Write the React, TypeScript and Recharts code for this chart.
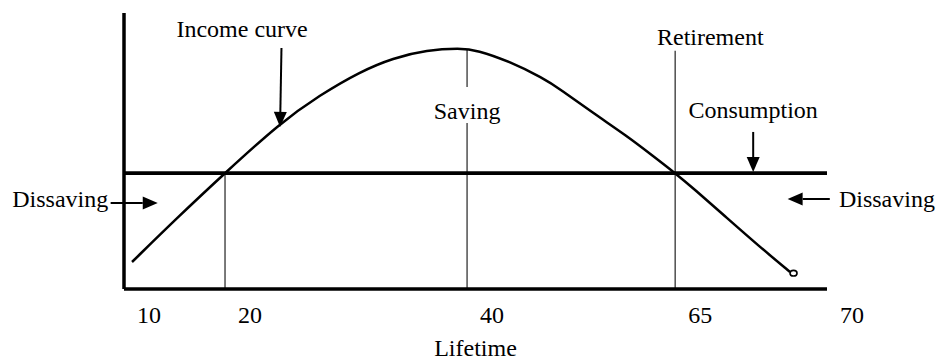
import React from 'react';
import { LineChart, Line, XAxis, YAxis, ReferenceLine, ReferenceDot } from 'recharts';

// Position along the lifetime axis (0–100 units) and income level (0–100 units)
const lifetimePos = [1.14, 7.68, 14.37, 22.19, 27.88, 33.57, 38.26, 43.1, 47.8, 50.21, 54.91, 59.6, 62.02, 66.71, 71.55, 75.25, 78.38, 80.94, 85.78, 90.47, 94.74];
const incomeLevel = [9.78, 26.09, 42.03, 60.14, 70.29, 78.73, 83.7, 86.59, 87.21, 86.59, 82.36, 76.45, 72.46, 63.77, 55.43, 48.19, 42.03, 36.59, 25.72, 15.22, 6.16];

const tickPositions = [0, 14.37, 48.8, 78.4, 100];
const tickLabels = ['10', '20', '40', '65', '70'];

const consumptionLevel = 42;

// thin vertical guide segments [x, yFrom, yTo]
const guideX = [14.37, 48.8, 48.8, 78.4];
const guideFrom = [0, 0, 73.2, 0];
const guideTo = [42, 60.1, 87.0, 86.3];

// annotation texts
const noteText = ['Income curve', 'Saving', 'Retirement', 'Consumption', 'Dissaving', 'Dissaving'];
const noteX = [16.8, 48.8, 83.4, 89.5, -15.9, 101.7];
const noteY = [91.3, 61.6, 88.4, 62.0, 29.7, 29.7];
const noteAnchor = ['middle', 'middle', 'middle', 'middle', 'start', 'start'];

// arrows: from (x1,y1) to tip (x2,y2)
const arrowX1 = [22.4, 89.5, -1.9, 100.4];
const arrowY1 = [87.3, 56.9, 31.2, 32.6];
const arrowX2 = [22.2, 89.5, 4.8, 94.4];
const arrowY2 = [58.7, 42.4, 31.2, 32.6];

const data = lifetimePos.map((u, i) => ({ u, income: incomeLevel[i] }));

const FONT = '"Liberation Serif", "Times New Roman", serif';

const ArrowShape = (p: any) => {
  const { x1, y1, x2, y2 } = p;
  const dx = x2 - x1;
  const dy = y2 - y1;
  const len = Math.sqrt(dx * dx + dy * dy) || 1;
  const ux = dx / len;
  const uy = dy / len;
  const hl = 15;
  const hw = 6.5;
  const bx = x2 - ux * hl;
  const by = y2 - uy * hl;
  const px = -uy;
  const py = ux;
  return (
    <g>
      <line x1={x1} y1={y1} x2={bx} y2={by} stroke="#000" strokeWidth={2} />
      <polygon
        points={`${x2},${y2} ${bx + px * hw},${by + py * hw} ${bx - px * hw},${by - py * hw}`}
        fill="#000"
      />
    </g>
  );
};

const Tick = (p: any) => {
  const { x, y, index } = p;
  return (
    <text x={x + 25} y={y + 34} textAnchor="middle" fontFamily={FONT} fontSize={24} fill="#000">
      {tickLabels[index]}
    </text>
  );
};

const EndDot = (p: any) => {
  const { cx, cy, index } = p;
  if (index !== data.length - 1) return <g key={`d${index}`} />;
  return (
    <ellipse key={`d${index}`} cx={cx + 3.5} cy={cy + 1.2} rx={3.5} ry={2.8} fill="none" stroke="#000" strokeWidth={1.6} />
  );
};

export default function App() {
  return (
    <div style={{ position: 'absolute', left: 0, top: 0, background: '#fff' }}>
      <LineChart width={952} height={361} data={data} margin={{ top: 13, right: 125, bottom: 0, left: 0 }}>
        <XAxis
          type="number"
          dataKey="u"
          domain={[0, 100]}
          ticks={tickPositions}
          interval={0}
          tickLine={false}
          tickSize={0}
          tickMargin={0}
          tick={<Tick />}
          axisLine={{ stroke: '#000', strokeWidth: 3.5 }}
          height={72}
          label={(lp: any) => {
            const vb = lp.viewBox || {};
            return (
              <text x={vb.x + vb.width / 2} y={vb.y + 67} textAnchor="middle" fontFamily={FONT} fontSize={24} fill="#000">
                Lifetime
              </text>
            );
          }}
        />
        <YAxis
          type="number"
          domain={[0, 100]}
          tick={false}
          tickLine={false}
          width={124}
          axisLine={{ stroke: '#000', strokeWidth: 3.5 }}
        />
        {guideX.map((gx, i) => (
          <ReferenceLine
            key={`g${i}`}
            segment={[{ x: gx, y: guideFrom[i] }, { x: gx, y: guideTo[i] }]}
            stroke="#222"
            strokeWidth={1.2}
            ifOverflow="visible"
          />
        ))}
        <ReferenceLine y={consumptionLevel} stroke="#000" strokeWidth={3.8} />
        <Line
          type="basis"
          dataKey="income"
          stroke="#000"
          strokeWidth={2.5}
          dot={EndDot}
          activeDot={false}
          isAnimationActive={false}
        />
        {arrowX1.map((ax, i) => (
          <ReferenceLine
            key={`a${i}`}
            segment={[{ x: ax, y: arrowY1[i] }, { x: arrowX2[i], y: arrowY2[i] }]}
            ifOverflow="visible"
            shape={ArrowShape}
          />
        ))}
        {noteText.map((t, i) => (
          <ReferenceDot
            key={`n${i}`}
            x={noteX[i]}
            y={noteY[i]}
            r={1}
            ifOverflow="visible"
            shape={(p: any) => (
              <text x={p.cx} y={p.cy} textAnchor={noteAnchor[i] as any} fontFamily={FONT} fontSize={24} fill="#000">
                {t}
              </text>
            )}
          />
        ))}
      </LineChart>
    </div>
  );
}
